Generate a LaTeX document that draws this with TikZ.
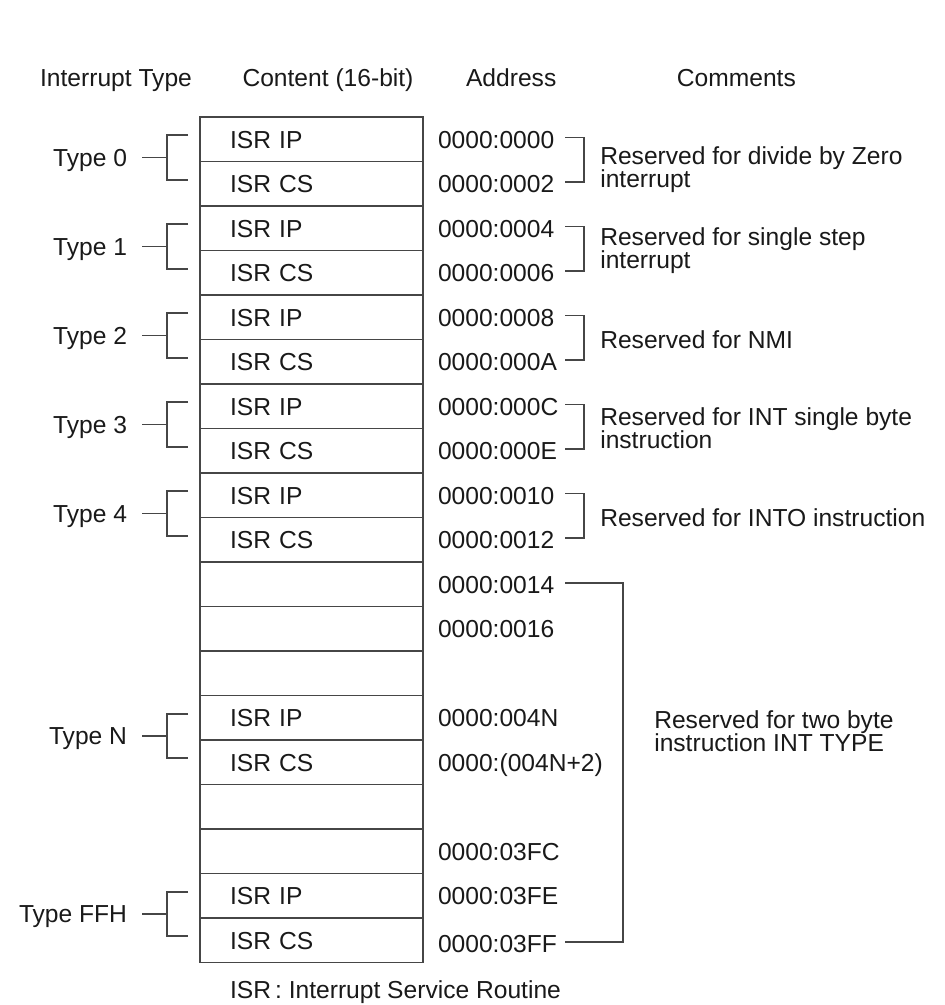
\documentclass[tikz,border=0pt]{standalone}
\usepackage{fontspec}
\setmainfont{Liberation Sans}
\usepackage{xcolor}
\usepackage{tikz}
\usetikzlibrary{positioning, calc}
\definecolor{rulegray}{RGB}{70,70,70}
\definecolor{inkblack}{RGB}{25,25,25}
\newcommand{\diagfont}{\fontsize{17.5}{16.4}\selectfont}

\tikzset{
  lbl/.style={inner sep=0pt, outer sep=0pt, text height=12.5pt, text depth=0pt,
              text=inkblack, font=\diagfont},
  cell/.style={lbl, draw=rulegray, line width=1.3pt, minimum height=1.1125cm,
               text width=4.075cm, inner xsep=0.75cm, align=left},
  addr/.style={lbl, text width=3.175cm, align=left, right=0.375cm of #1},
  note/.style={inner sep=0pt, anchor=west, align=left, text=inkblack, font=\diagfont},
  brace/.style={draw=rulegray, line width=1.2pt},
}

\begin{document}
\begin{tikzpicture}
  \useasboundingbox (0,0) rectangle (23.625,-25.125);

  % --- column heads ---
  \node[lbl] (hType) at (2.9,-1.95)   {Interrupt Type};
  \node[lbl] (hCont) at (8.2,-1.95)   {Content (16-bit)};
  \node[lbl] (hAddr) at (12.78,-1.95) {Address};
  \node[lbl] (hComm) at (18.41,-1.95) {Comments};

  % --- vector table, one cell per word ---
  \node[cell] (r0) at (7.7875,-3.48125) {ISR IP};
  \node[cell, below=0pt of r0]  (r1)  {ISR CS};
  \node[cell, below=0pt of r1]  (r2)  {ISR IP};
  \node[cell, below=0pt of r2]  (r3)  {ISR CS};
  \node[cell, below=0pt of r3]  (r4)  {ISR IP};
  \node[cell, below=0pt of r4]  (r5)  {ISR CS};
  \node[cell, below=0pt of r5]  (r6)  {ISR IP};
  \node[cell, below=0pt of r6]  (r7)  {ISR CS};
  \node[cell, below=0pt of r7]  (r8)  {ISR IP};
  \node[cell, below=0pt of r8]  (r9)  {ISR CS};
  \node[cell, below=0pt of r9]  (r10) {};
  \node[cell, below=0pt of r10] (r11) {};
  \node[cell, below=0pt of r11] (r12) {};
  \node[cell, below=0pt of r12] (r13) {ISR IP};
  \node[cell, below=0pt of r13] (r14) {ISR CS};
  \node[cell, below=0pt of r14] (r15) {};
  \node[cell, below=0pt of r15] (r16) {};
  \node[cell, below=0pt of r16] (r17) {ISR IP};
  \node[cell, below=0pt of r17] (r18) {ISR CS};

  % --- addresses ---
  \node[addr=r0]  (a0)  {0000:0000};
  \node[addr=r1]  (a1)  {0000:0002};
  \node[addr=r2]  (a2)  {0000:0004};
  \node[addr=r3]  (a3)  {0000:0006};
  \node[addr=r4]  (a4)  {0000:0008};
  \node[addr=r5]  (a5)  {0000:000A};
  \node[addr=r6]  (a6)  {0000:000C};
  \node[addr=r7]  (a7)  {0000:000E};
  \node[addr=r8]  (a8)  {0000:0010};
  \node[addr=r9]  (a9)  {0000:0012};
  \node[addr=r10] (a10) {0000:0014};
  \node[addr=r11] (a11) {0000:0016};
  \node[addr=r13] (a13) {0000:004N};
  \node[addr=r14] (a14) {0000:(004N+2)};
  \node[addr=r16] (a16) {0000:03FC};
  \node[addr=r17] (a17) {0000:03FE};
  \node[addr=r18, yshift=-0.08cm] (a18) {0000:03FF};

  % --- interrupt types ---
  \node[lbl, anchor=east] (t0) at ([shift={(-1.825,0.1)}]r0.south west)  {Type 0};
  \node[lbl, anchor=east] (t1) at ([shift={(-1.825,0.1)}]r2.south west)  {Type 1};
  \node[lbl, anchor=east] (t2) at ([shift={(-1.825,0.1)}]r4.south west)  {Type 2};
  \node[lbl, anchor=east] (t3) at ([shift={(-1.825,0.1)}]r6.south west)  {Type 3};
  \node[lbl, anchor=east] (t4) at ([shift={(-1.825,0.1)}]r8.south west)  {Type 4};
  \node[lbl, anchor=east] (tN) at ([shift={(-1.825,0.1)}]r13.south west) {Type N};
  \node[lbl, anchor=east] (tF) at ([shift={(-1.825,0.1)}]r17.south west) {Type FFH};

  % brackets type -> IP/CS pair
  \draw[brace] ([xshift=0.375cm]t0.east) -- ++(0.625,0);
  \draw[brace] ([shift={(-0.3,0.1)}]r0.west) -- ++(-0.525,0) |- ([shift={(-0.3,0.1)}]r1.west);
  \draw[brace] ([xshift=0.375cm]t1.east) -- ++(0.625,0);
  \draw[brace] ([shift={(-0.3,0.1)}]r2.west) -- ++(-0.525,0) |- ([shift={(-0.3,0.1)}]r3.west);
  \draw[brace] ([xshift=0.375cm]t2.east) -- ++(0.625,0);
  \draw[brace] ([shift={(-0.3,0.1)}]r4.west) -- ++(-0.525,0) |- ([shift={(-0.3,0.1)}]r5.west);
  \draw[brace] ([xshift=0.375cm]t3.east) -- ++(0.625,0);
  \draw[brace] ([shift={(-0.3,0.1)}]r6.west) -- ++(-0.525,0) |- ([shift={(-0.3,0.1)}]r7.west);
  \draw[brace] ([xshift=0.375cm]t4.east) -- ++(0.625,0);
  \draw[brace] ([shift={(-0.3,0.1)}]r8.west) -- ++(-0.525,0) |- ([shift={(-0.3,0.1)}]r9.west);
  \draw[brace] ([xshift=0.375cm]tN.east) -- ++(0.625,0);
  \draw[brace] ([shift={(-0.3,0.1)}]r13.west) -- ++(-0.525,0) |- ([shift={(-0.3,0.1)}]r14.west);
  \draw[brace] ([xshift=0.375cm]tF.east) -- ++(0.625,0);
  \draw[brace] ([shift={(-0.3,0.1)}]r17.west) -- ++(-0.525,0) |- ([shift={(-0.3,0.1)}]r18.west);

  % --- comments ---
  \draw[brace] ([yshift=0.04cm]a0.east) -- ++(0.475,0) |- ([yshift=0.04cm]a1.east);
  \node[note] (c0) at ($(a0.east)!0.5!(a1.east)+(0.875,-0.2)$) {Reserved for divide by Zero\\interrupt};
  \draw[brace] ([yshift=0.04cm]a2.east) -- ++(0.475,0) |- ([yshift=0.04cm]a3.east);
  \node[note] (c1) at ($(a2.east)!0.5!(a3.east)+(0.875,0)$) {Reserved for single step\\interrupt};
  \draw[brace] ([yshift=0.04cm]a4.east) -- ++(0.475,0) |- ([yshift=0.04cm]a5.east);
  \node[note] (c2) at ($(a4.east)!0.5!(a5.east)+(0.875,0)$) {Reserved for NMI};
  \draw[brace] ([yshift=0.04cm]a6.east) -- ++(0.475,0) |- ([yshift=0.04cm]a7.east);
  \node[note] (c3) at ($(a6.east)!0.5!(a7.east)+(0.875,0)$) {Reserved for INT single byte\\instruction};
  \draw[brace] ([yshift=0.04cm]a8.east) -- ++(0.475,0) |- ([yshift=0.04cm]a9.east);
  \node[note] (c4) at ($(a8.east)!0.5!(a9.east)+(0.875,0)$) {Reserved for INTO instruction};
  \draw[brace] ([yshift=0.04cm]a10.east) -- ++(1.45,0) |- ([yshift=0.04cm]a18.east);
  \node[note] (c5) at ($(a13.east)!0.5!(a14.east)+(2.225,0.225)$) {Reserved for two byte\\instruction INT TYPE};

  % key
  \node[lbl, anchor=west] (key) at ([shift={(0.75,-0.68)}]r18.south west) {ISR\,: Interrupt Service Routine};
\end{tikzpicture}
\end{document}
